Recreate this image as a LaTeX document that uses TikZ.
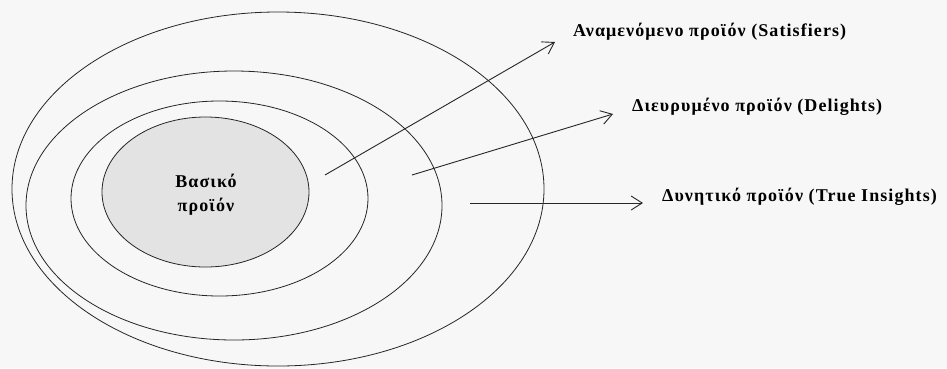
\documentclass[tikz,border=0pt]{standalone}
\usepackage{fontspec}
\setmainfont{Liberation Serif}
\newfontfamily\spaced[LetterSpace=6]{Liberation Serif}
\usetikzlibrary{shapes.geometric,arrows.meta}
\begin{document}
\begin{tikzpicture}[x=1pt,y=-1pt,
  ring/.style={draw=black!85,line width=0.8pt,ellipse,inner sep=0pt},
  lbl/.style={font=\spaced\bfseries\fontsize{18}{20}\selectfont,anchor=west,inner sep=0pt,text=black},
  arr/.style={draw=black!85,line width=0.9pt,-{Straight Barb[length=11pt,width=14pt,line width=0.9pt]}}]
\fill[gray!6] (0,0) rectangle (947,368);
\useasboundingbox (0,0) rectangle (947,368);
\node[ring,minimum width=532pt,minimum height=354pt] (outer) at (278,189) {};
\node[ring,minimum width=416pt,minimum height=269pt] (third) at (234,205.5) {};
\node[ring,minimum width=297pt,minimum height=195pt] (second) at (219.5,198.5) {};
\node[ring,fill=gray!22,minimum width=207pt,minimum height=150pt] (core) at (205.5,192) {};
\node[font=\spaced\bfseries\fontsize{18}{24}\selectfont,align=center,text=black] (coretext) at (206,195) {Βασικό\\προϊόν};
\node[lbl] (l1) at (573,32) {Αναμενόμενο προϊόν (Satisfiers)};
\node[lbl] (l2) at (632,107) {Διευρυμένο προϊόν (Delights)};
\node[lbl] (l3) at (662,197) {Δυνητικό προϊόν (True Insights)};
\coordinate (s1) at (325,175);
\coordinate (e1) at (555,42);
\coordinate (s2) at (412,175);
\coordinate (e2) at (613,114);
\coordinate (s3) at (470,203);
\coordinate (e3) at (643,203);
\draw[arr] (s1) -- (e1);
\draw[arr] (s2) -- (e2);
\draw[arr] (s3) -- (e3);
\end{tikzpicture}
\end{document}
